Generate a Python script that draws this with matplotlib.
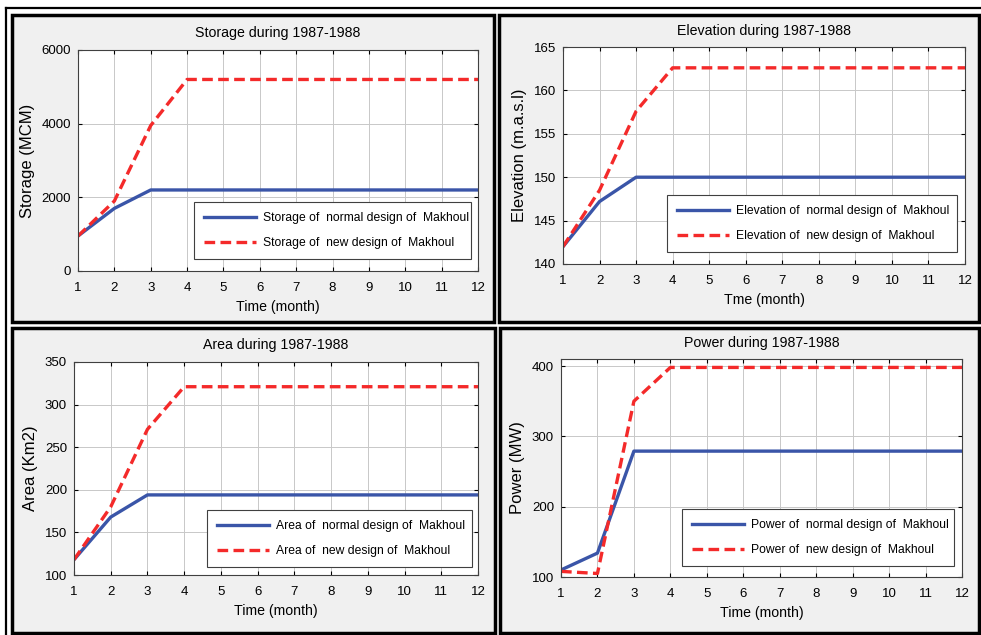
import matplotlib
matplotlib.use("Agg")
import matplotlib.pyplot as plt
import matplotlib.patches as patches
from matplotlib.lines import Line2D

plt.rcParams['font.family'] = ['Liberation Sans', 'DejaVu Sans']

W, H = 981, 635

months = list(range(1, 13))

storage_normal = [950, 1700, 2200, 2200, 2200, 2200, 2200, 2200, 2200, 2200, 2200, 2200]
storage_new = [950, 1900, 3950, 5200, 5200, 5200, 5200, 5200, 5200, 5200, 5200, 5200]

elev_normal = [142, 147.2, 150, 150, 150, 150, 150, 150, 150, 150, 150, 150]
elev_new = [142, 148.5, 157.6, 162.6, 162.6, 162.6, 162.6, 162.6, 162.6, 162.6, 162.6, 162.6]

area_normal = [118, 168, 194, 194, 194, 194, 194, 194, 194, 194, 194, 194]
area_new = [118, 180, 271, 321, 321, 321, 321, 321, 321, 321, 321, 321]

power_normal = [110, 134, 279, 279, 279, 279, 279, 279, 279, 279, 279, 279]
power_new = [108, 105, 350, 398, 398, 398, 398, 398, 398, 398, 398, 398]

BLUE = '#3a55a8'
RED = '#f42a2a'
BG = '#f0f0f0'


def px(l, t, r, b):
    return [l / W, 1 - b / H, (r - l) / W, (b - t) / H]


fig = plt.figure(figsize=(W / 100, H / 100), dpi=100)
fig.patch.set_facecolor('white')

# outer lines of the original screenshot
fig.lines.append(Line2D([6 / W, 1], [1 - 8 / H, 1 - 8 / H], transform=fig.transFigure,
                        color='black', lw=1.6, zorder=-6))
fig.lines.append(Line2D([6 / W, 6 / W], [0, 1 - 8 / H], transform=fig.transFigure,
                        color='black', lw=1.6, zorder=-6))

# panel frames
for (l, t, r, b) in [(12, 15, 494, 322), (499, 15, 979, 322),
                     (12, 328, 495, 633), (500, 328, 979, 633)]:
    fig.patches.append(patches.Rectangle((l / W, 1 - b / H), (r - l) / W, (b - t) / H,
                                         transform=fig.transFigure, facecolor=BG,
                                         edgecolor='black', linewidth=2.5, zorder=-5))


def panel(rect, leg, normal, new, title, ylabel, xlabel, ylim, yticks, name):
    ax = fig.add_axes(px(*rect))
    ax.set_facecolor('white')
    ax.plot(months, normal, color=BLUE, lw=2.4, label=f'{name} of  normal design of  Makhoul')
    ax.plot(months, new, color=RED, lw=2.4, ls=(0, (3.2, 1.6)), label=f'{name} of  new design of  Makhoul')
    ax.set_xlim(1, 12)
    ax.set_ylim(*ylim)
    ax.set_xticks(months)
    ax.set_yticks(yticks)
    ax.grid(True, color='#c8c8c8', lw=0.7)
    ax.tick_params(direction='in', top=True, right=True, length=3, labelsize=9.5)
    ax.tick_params(axis='x', pad=8)
    ax.tick_params(axis='y', pad=5)
    for s in ax.spines.values():
        s.set_color('#404040')
        s.set_linewidth(0.8)
    ax.set_title(title, fontsize=10.2, pad=9)
    ax.set_ylabel(ylabel, fontsize=12, labelpad=5)
    ax.set_xlabel(xlabel, fontsize=10.2, labelpad=4)
    l, t, r, b = leg
    lg = ax.legend(loc='lower left', bbox_to_anchor=(l / W, 1 - b / H, (r - l) / W, (b - t) / H),
                   bbox_transform=fig.transFigure, mode='expand', borderaxespad=0,
                   fancybox=False, framealpha=1, edgecolor='#404040', fontsize=8.7,
                   handlelength=4.3, handletextpad=0.6, labelspacing=1.1, borderpad=0.8)
    lg.get_frame().set_linewidth(0.8)
    return ax


panel((78, 50, 478, 271), (194, 196, 471, 259), storage_normal, storage_new,
      'Storage during 1987-1988', 'Storage (MCM)', 'Time (month)',
      (0, 6000), [0, 2000, 4000, 6000], 'Storage')
panel((563, 47, 965, 264), (667, 189, 957, 252), elev_normal, elev_new,
      'Elevation during 1987-1988', 'Elevation (m.a.s.l)', 'Tme (month)',
      (140, 165), [140, 145, 150, 155, 160, 165], 'Elevation')
panel((74, 362, 478, 575), (207, 503, 472, 567), area_normal, area_new,
      'Area during 1987-1988', 'Area (Km2)', 'Time (month)',
      (100, 350), [100, 150, 200, 250, 300, 350], 'Area')
panel((561, 359, 962, 577), (682, 502, 954, 566), power_normal, power_new,
      'Power during 1987-1988', 'Power (MW)', 'Time (month)',
      (100, 410), [100, 200, 300, 400], 'Power')

fig.savefig('out.png', dpi=100)
